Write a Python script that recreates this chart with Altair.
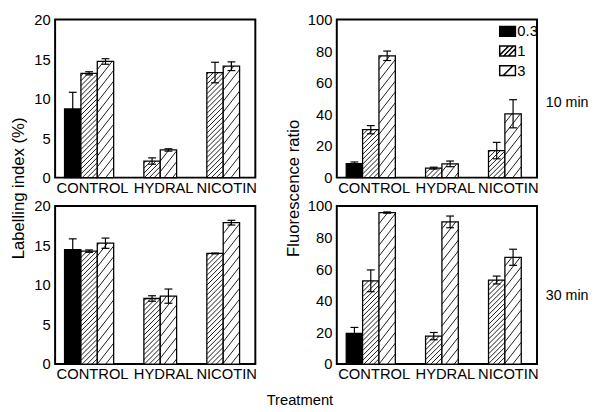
import altair as alt
import numpy as np
import pandas as pd

categories = ["CONTROL", "HYDRAL", "NICOTIN"]
series_names = ["0.3", "1", "3"]

# Labelling index (%) - 10 min
li10_s03 = [8.7, None, None]
li10_s1 = [13.2, 2.1, 13.3]
li10_s3 = [14.7, 3.5, 14.1]
li10_e03 = [2.1, None, None]
li10_e1 = [0.2, 0.4, 1.3]
li10_e3 = [0.35, 0.15, 0.55]

# Fluorescence ratio - 10 min
fr10_s03 = [8.9, None, None]
fr10_s1 = [30.3, 6.0, 17.1]
fr10_s3 = [77.1, 8.7, 40.4]
fr10_e03 = [1.0, None, None]
fr10_e1 = [2.6, 0.6, 5.2]
fr10_e3 = [3.0, 1.8, 8.9]

# Labelling index (%) - 30 min
li30_s03 = [14.5, None, None]
li30_s1 = [14.3, 8.3, 14.0]
li30_s3 = [15.3, 8.6, 17.9]
li30_e03 = [1.35, None, None]
li30_e1 = [0.15, 0.35, 0.05]
li30_e3 = [0.65, 0.9, 0.3]

# Fluorescence ratio - 30 min
fr30_s03 = [19.5, None, None]
fr30_s1 = [52.7, 17.7, 53.2]
fr30_s3 = [95.9, 90.0, 67.6]
fr30_e03 = [3.7, None, None]
fr30_e1 = [6.9, 2.3, 2.5]
fr30_e3 = [0.4, 3.7, 5.1]

li_ticks = [0, 5, 10, 15, 20]
fr_ticks = [0, 20, 40, 60, 80, 100]
side_labels = ["10 min", "30 min"]

# layout / style constants
W, H = 204, 161
OUTER = 0.15
SLOT = 0.26
XMAX = 3.18
HATCH = {"1": (5.0, 45.0), "3": (11.0, 52.0)}  # (vertical spacing px, angle deg)
FONT = "Liberation Sans"

SQ = "M-1,-0.625H1V0.625H-1Z"
shape_range = [
    SQ,
    SQ + "M-1,0.525L0.15,-0.625M-0.5,0.625L0.75,-0.625M0.1,0.625L1,-0.275",
    SQ + "M-0.55,0.625L0.7,-0.625",
]
fill_scale = alt.Scale(domain=series_names, range=["black", "white", "white"])
shape_scale = alt.Scale(domain=series_names, range=shape_range)


def bar_table(vals, errs):
    rows = []
    for j, s in enumerate(series_names):
        for k, c in enumerate(categories):
            v = vals[j][k]
            if v is None:
                continue
            e = errs[j][k]
            x0 = OUTER + k + j * SLOT
            rows.append(dict(cat=c, series=s, x0=x0, x1=x0 + SLOT, xc=x0 + SLOT / 2,
                             v=v, lo=v - e, hi=v + e))
    return pd.DataFrame(rows)


def hatch_table(df, ymax):
    kx = W / XMAX
    ky = H / ymax
    segs = []
    for _, b in df.iterrows():
        if b.series not in HATCH:
            continue
        s, ang = HATCH[b.series]
        t = np.tan(np.radians(ang))
        xl = b.x0 * kx
        w = (b.x1 - b.x0) * kx
        h = b.v * ky
        n0 = int(np.floor((-w * t + t * xl) / s)) - 1
        n1 = int(np.ceil((h + t * xl) / s)) + 1
        for n in range(n0, n1 + 1):
            c = n * s - t * xl  # y' = t*x' + c  (bar-local px)
            xa = max(0.0, -c / t)
            xb = min(w, (h - c) / t)
            if xb - xa < 0.4:
                continue
            ya, yb = c + t * xa, c + t * xb
            segs.append(dict(hx0=b.x0 + xa / kx, hx1=b.x0 + xb / kx,
                             hy0=ya / ky, hy1=yb / ky))
    return pd.DataFrame(segs)


def make_panel(vals, errs, ymax, yticks, side_title=None, dy=0, with_legend=False):
    df = bar_table(vals, errs)
    hd = hatch_table(df, ymax)
    pos = [float(df[df.cat == c].xc.mean()) for c in categories]
    expr = f"'{categories[-1]}'"
    for i in range(len(categories) - 2, -1, -1):
        mid = (pos[i] + pos[i + 1]) / 2
        expr = f"datum.value < {mid:.3f} ? '{categories[i]}' : " + expr
    xs = alt.Scale(domain=[0, XMAX], nice=False, zero=False)
    ys = alt.Scale(domain=[0, ymax], nice=False, zero=True)
    xaxis = alt.Axis(values=pos, labelExpr=expr, ticks=False, domain=False, grid=False,
                     title=None, labelFontSize=15, labelPadding=3, labelOverlap=False,
                     labelFlush=False, labelOffset=3)
    yaxis = alt.Axis(values=yticks, ticks=False, domain=False, grid=False, title=None,
                     labelFontSize=15, labelPadding=5, labelOverlap=False,
                     labelFlush=False, tickCount=len(yticks))

    def X(f):
        return alt.X(f, scale=xs, axis=xaxis)

    def Y(f):
        return alt.Y(f, scale=ys, axis=yaxis)

    leg = alt.Legend(title=None, orient="none", legendX=W - 39, legendY=3, labelFontSize=15,
                     labelFont=FONT, symbolSize=256, labelOffset=1, rowPadding=3,
                     padding=0) if with_legend else None
    base = alt.Chart(df)
    bars = base.mark_rect(stroke="black", strokeWidth=1.3).encode(
        x=X("x0:Q"),
        x2="x1:Q",
        y=Y("v:Q"),
        y2=alt.datum(0),
        fill=alt.Fill("series:N", scale=fill_scale, legend=leg),
    )
    hatch = alt.Chart(hd).mark_rule(color="black", strokeWidth=0.9).encode(
        x=X("hx0:Q"), x2="hx1:Q", y=Y("hy0:Q"), y2="hy1:Q")
    err = base.mark_rule(color="black", strokeWidth=1.2).encode(
        x=X("xc:Q"), y=Y("lo:Q"), y2="hi:Q")
    cap_hi = base.mark_tick(orient="horizontal", size=8, thickness=1.2, color="black",
                            opacity=1).encode(x=X("xc:Q"), y=Y("hi:Q"))
    cap_lo = base.mark_tick(orient="horizontal", size=8, thickness=1.2, color="black",
                            opacity=1).encode(x=X("xc:Q"), y=Y("lo:Q"))
    layers = [bars, hatch, err, cap_hi, cap_lo]
    if with_legend:
        pts = base.mark_point(filled=True, stroke="black", strokeWidth=1, opacity=1).encode(
            x=X("xc:Q"), y=Y("v:Q"),
            fill=alt.Fill("series:N", scale=fill_scale, legend=leg),
            shape=alt.Shape("series:N", scale=shape_scale, legend=leg),
        ).transform_filter("false")
        layers.append(pts)
    if side_title:
        side = alt.Chart(pd.DataFrame({"label": [side_title]})).mark_text(
            align="left", baseline="middle", fontSize=14.5, font=FONT, color="black"
        ).encode(text="label:N", x=alt.value(W + 9), y=alt.value(H / 2 + dy))
        layers.append(side)
    return alt.layer(*layers).properties(width=W, height=H)


tl = make_panel([li10_s03, li10_s1, li10_s3], [li10_e03, li10_e1, li10_e3], 20, li_ticks)
bl = make_panel([li30_s03, li30_s1, li30_s3], [li30_e03, li30_e1, li30_e3], 20, li_ticks)
tr = make_panel([fr10_s03, fr10_s1, fr10_s3], [fr10_e03, fr10_e1, fr10_e3], 100, fr_ticks,
                side_labels[0], 4.5, with_legend=True)
br = make_panel([fr30_s03, fr30_s1, fr30_s3], [fr30_e03, fr30_e1, fr30_e3], 100, fr_ticks,
                side_labels[1], 11)


def col_title(text, offset):
    return alt.TitleParams(text, orient="left", anchor="middle", fontSize=17, font=FONT,
                           fontWeight="normal", color="black", offset=offset, dx=9)


left = alt.vconcat(tl, bl, spacing=2, title=col_title("Labelling index (%)", 5)).resolve_scale(
    fill="independent", shape="independent").resolve_legend(fill="independent", shape="independent")
right = alt.vconcat(tr, br, spacing=2, title=col_title("Fluorescence ratio", 3)).resolve_scale(
    fill="independent", shape="independent").resolve_legend(fill="independent", shape="independent")

chart = alt.hconcat(left, right, spacing=27,
                    title=alt.TitleParams("Treatment", orient="bottom", anchor="middle",
                                          fontSize=15, font=FONT, fontWeight="normal",
                                          color="black", offset=11)
                    ).resolve_scale(fill="independent", shape="independent").resolve_legend(
    fill="independent", shape="independent").properties(
    padding={"left": 2, "top": 0, "right": 0, "bottom": 0}
).configure_view(stroke="black", strokeWidth=2).configure_axis(
    labelFont=FONT, labelColor="black").configure_axisY(labelOverlap=False).configure_legend(
    symbolStrokeColor="black")

chart.save("out.html", embed_options={"renderer": "svg", "actions": False})
